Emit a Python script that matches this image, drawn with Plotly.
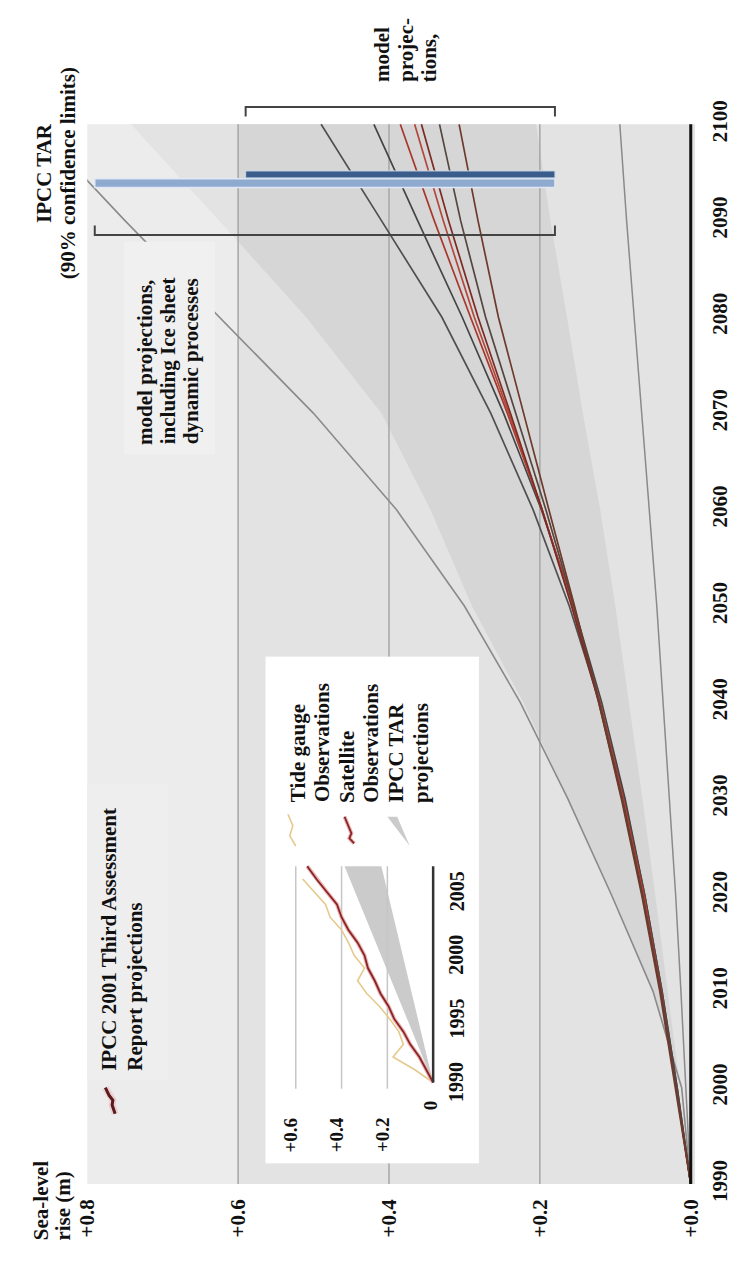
import plotly.graph_objects as go

W, H = 742, 1267
FONT = "Liberation Serif"
INK = "#111111"

# ------------------------------------------------------------------ data
decade_years = [1990, 2000, 2010, 2020, 2030, 2040, 2050, 2060, 2070, 2080, 2090, 2100]
level_ticks = [0.8, 0.6, 0.4, 0.2, 0.0]
level_labels = ["+0.8", "+0.6", "+0.4", "+0.2", "+0.0"]
grid_levels = [0.2, 0.4, 0.6]

# model projection lines (sea-level rise, m) at decade_years
proj_1 = [0, 0.018, 0.038, 0.061, 0.088, 0.121, 0.161, 0.209, 0.265, 0.330, 0.410, 0.490]
proj_2 = [0, 0.018, 0.038, 0.061, 0.087, 0.118, 0.155, 0.198, 0.248, 0.303, 0.362, 0.420]
proj_3 = [0, 0.019, 0.039, 0.062, 0.089, 0.120, 0.156, 0.197, 0.243, 0.292, 0.340, 0.385]
proj_4 = [0, 0.019, 0.040, 0.063, 0.090, 0.121, 0.157, 0.197, 0.241, 0.287, 0.328, 0.366]
proj_5 = [0, 0.019, 0.040, 0.064, 0.091, 0.122, 0.158, 0.197, 0.239, 0.282, 0.321, 0.357]
proj_6 = [0, 0.019, 0.040, 0.064, 0.091, 0.121, 0.155, 0.192, 0.232, 0.272, 0.305, 0.333]
proj_7 = [0, 0.020, 0.041, 0.065, 0.092, 0.122, 0.154, 0.188, 0.222, 0.255, 0.282, 0.307]
proj_lines = [proj_1, proj_2, proj_3, proj_4, proj_5, proj_6, proj_7]
proj_colors = ["#505050", "#454545", "#a8382c", "#b4473b", "#7c2a22", "#55463f", "#6e3a2c"]

tar_low = [0, 0.006, 0.013, 0.020, 0.028, 0.036, 0.045, 0.055, 0.065, 0.075, 0.085, 0.094]
ice_high = [0, 0.012, 0.050, 0.105, 0.163, 0.226, 0.300, 0.390, 0.500, 0.625, 0.750, 0.870]
band_low = [0, 0.014, 0.030, 0.047, 0.064, 0.082, 0.100, 0.120, 0.143, 0.164, 0.186, 0.205]
band_high = [0, 0.014, 0.050, 0.105, 0.163, 0.222, 0.290, 0.345, 0.410, 0.510, 0.625, 0.742]

bar_low = 0.18
bar_model_high = 0.59
bar_ice_high = 0.79
bar_model_year = 2094.8
bar_ice_year = 2093.9
bracket_model_year = 2101.8
bracket_ice_year = 2088.5

swatch_main_levels = [0.776, 0.771, 0.766, 0.767, 0.763]
swatch_main_years = [2000.0, 1999.2, 1998.7, 1998.2, 1997.3]

# inset (observations vs TAR projections)
inset_year_ticks = [1990, 1995, 2000, 2005]
inset_level_ticks = [0.6, 0.4, 0.2]
inset_level_labels = ["+0.6", "+0.4", "+0.2"]
inset_zero_label = "0"
tide_years = list(range(1990, 2007))
tide_levels = [0.0, 0.08, 0.175, 0.13, 0.15, 0.19, 0.235, 0.29, 0.33, 0.30, 0.345,
               0.37, 0.40, 0.45, 0.47, 0.52, 0.57]
sat_years = list(range(1990, 2008))
sat_levels = [0.0, 0.03, 0.06, 0.10, 0.13, 0.17, 0.195, 0.23, 0.255, 0.285, 0.30,
              0.33, 0.37, 0.40, 0.42, 0.465, 0.51, 0.55]
inset_wedge_years = [1990, 2007]
inset_wedge_low_end = 0.226
inset_wedge_high_end = 0.387
inset_span_years = [1989.5, 2007]

tide_swatch_levels = [0.634, 0.613, 0.626, 0.600]
tide_swatch_years = [2011.1, 2010.2, 2009.4, 2008.6]
sat_swatch_levels = [0.387, 0.370, 0.357, 0.366, 0.345]
sat_swatch_years = [2010.9, 2010.2, 2009.6, 2009.2, 2008.8]
wedge_swatch_levels = [0.200, 0.157, 0.102]
wedge_swatch_years = [2010.9, 2010.9, 2008.6]

# ------------------------------------------------------------------ helpers
def PX(x):
    return x / W


def PY(y):
    return 1 - y / H


S_RIGHT = -0.006
Y_TOP = 2103

fig = go.Figure()


def line(xs, ys, color, width, axis=1):
    fig.add_trace(go.Scatter(
        x=xs, y=ys, mode="lines", line=dict(color=color, width=width),
        hoverinfo="skip", showlegend=False,
        xaxis="x" if axis == 1 else "x2", yaxis="y" if axis == 1 else "y2"))


def poly(xs, ys, color, axis=1, edge=None, edge_w=0):
    fig.add_trace(go.Scatter(
        x=xs, y=ys, fill="toself", fillcolor=color, mode="lines",
        line=dict(width=edge_w, color=edge or color),
        hoverinfo="skip", showlegend=False,
        xaxis="x" if axis == 1 else "x2", yaxis="y" if axis == 1 else "y2"))


def hbar(lo, hi, year, half, color, edge, edge_w):
    poly([lo, hi, hi, lo, lo], [year - half, year - half, year + half, year + half, year - half],
         color, edge=edge, edge_w=edge_w)


# dark projection band
poly(band_high + band_low[::-1], decade_years + decade_years[::-1], "#d6d6d6")
# lighter veil over the upper part of the scale
y0, y1 = decade_years[0], decade_years[-1]
poly([level_ticks[0], level_ticks[1], level_ticks[1], level_ticks[0], level_ticks[0]],
     [y0, y0, y1, y1, y0], "rgba(255,255,255,0.32)")

# grid lines
for g in grid_levels:
    line([g, g], [y0, y1], "#a6a6a6", 1.5)

line(tar_low, decade_years, "#8a8a8a", 1.5)
line(ice_high, decade_years, "#8a8a8a", 1.6)
for vals, col in zip(proj_lines, proj_colors):
    line(vals, decade_years, col, 1.7)

# small swatch near TAR label
line(swatch_main_levels, swatch_main_years, "#ead2d2", 7)
line(swatch_main_levels, swatch_main_years, "#5a1a1e", 3)

# range bars (drawn above the lines)
hbar(bar_low, bar_ice_high, bar_ice_year, 0.45, "#8eaacf", "#dfe8f4", 1.5)
hbar(bar_low, bar_model_high, bar_model_year, 0.36, "#3b5d8b", "#c9d6e8", 1)

# zero baseline
line([0, 0], [y0, y1], "#111111", 3)

# ------------------------------------------------------------------ inset traces
poly([0, inset_wedge_low_end, inset_wedge_high_end, 0],
     [inset_wedge_years[0], inset_wedge_years[1], inset_wedge_years[1], inset_wedge_years[0]],
     "#cbcbcb", axis=2)
for g in inset_level_ticks:
    line([g, g], inset_span_years, "#c6c6c6", 1.5, axis=2)
line(tide_levels, tide_years, "#e6c98c", 1.6, axis=2)
line(sat_levels, sat_years, "#e8b4b4", 4, axis=2)
line(sat_levels, sat_years, "#8a2424", 1.8, axis=2)
line([0, 0], [inset_wedge_years[0], inset_wedge_years[1]], "#333333", 2.5, axis=2)
# legend swatches
line(tide_swatch_levels, tide_swatch_years, "#e6c98c", 1.6, axis=2)
line(sat_swatch_levels, sat_swatch_years, "#e8b4b4", 4, axis=2)
line(sat_swatch_levels, sat_swatch_years, "#8a2424", 1.8, axis=2)
poly(wedge_swatch_levels + [wedge_swatch_levels[0]], wedge_swatch_years + [wedge_swatch_years[0]],
     "#cbcbcb", axis=2)

# ------------------------------------------------------------------ shapes
shapes = [
    dict(type="rect", xref="x", yref="y", x0=level_ticks[0], x1=S_RIGHT,
         y0=y0, y1=y1, fillcolor="#e3e3e3", line=dict(width=0), layer="below"),
]
# brackets
tk = 1.0
shapes.append(dict(
    type="path", xref="x", yref="y", layer="above", line=dict(color="#444444", width=2),
    path=(f"M {bar_low},{bracket_model_year - tk} L {bar_low},{bracket_model_year} "
          f"L {bar_model_high},{bracket_model_year} L {bar_model_high},{bracket_model_year - tk}")))
shapes.append(dict(
    type="path", xref="x", yref="y", layer="above", line=dict(color="#444444", width=2),
    path=(f"M {bar_low},{bracket_ice_year + tk} L {bar_low},{bracket_ice_year} "
          f"L {bar_ice_high},{bracket_ice_year} L {bar_ice_high},{bracket_ice_year + tk}")))
# text boxes
for (bx0, by0, bx1, by1, c) in [(69, 787, 152, 1088, "#eeeeee"), (107, 237, 200, 453, "#f0f0f0")]:
    shapes.append(dict(type="rect", xref="paper", yref="paper", x0=PX(bx0), x1=PX(bx1),
                       y0=PY(by1), y1=PY(by0), fillcolor=c, line=dict(width=0), layer="above"))

# ------------------------------------------------------------------ annotations
annotations = []


def ann(text, x, y, yanchor="middle", size=21, xref="paper", yref="paper", xshift=0):
    annotations.append(dict(
        text=f"<b>{text}</b>", x=x, y=y, xref=xref, yref=yref, textangle=-90,
        showarrow=False, xanchor="center", yanchor=yanchor, xshift=xshift,
        font=dict(family=FONT, size=size, color=INK)))


ann("Sea-level", PX(21), PY(1252), "bottom")
ann("rise (m)", PX(44), PY(1252), "bottom")
ann("IPCC TAR", PX(24), PY(167))
ann("(90% confidence limits)", PX(49), PY(168))
for t, x in zip(["model", "projec-", "tions,"], [372, 396, 420]):
    ann(t, PX(x), PY(77), "bottom")
for t, x in zip(["IPCC 2001 Third Assessment", "Report projections"], [91, 118]):
    ann(t, PX(x), PY(1080), "bottom")
for t, x in zip(["model projections,", "including Ice sheet", "dynamic processes"], [128, 152, 175]):
    ann(t, PX(x), PY(445), "bottom")
for t, x in zip(["Tide gauge", "Observations", "Satellite", "Observations", "IPCC TAR", "projections"],
                [285, 310, 335, 360, 385, 411]):
    ann(t, PX(x), PY(808), "bottom")
# inset tick labels
for v, t in zip(inset_level_ticks, inset_level_labels):
    ann(t, v, PY(1143), size=19, xref="x2", xshift=-5)
ann(inset_zero_label, 0, PY(1113), size=19, xref="x2", xshift=-3)
for yv in inset_year_ticks:
    ann(str(yv), PX(448), yv, size=20, yref="y2")

# ------------------------------------------------------------------ layout
fig.update_layout(
    width=W, height=H, margin=dict(l=0, r=0, t=0, b=0),
    paper_bgcolor="white", plot_bgcolor="white", showlegend=False,
    shapes=shapes, annotations=annotations,
    xaxis=dict(domain=[PX(69), PX(693)], range=[level_ticks[0], S_RIGHT],
               tickvals=level_ticks, ticktext=[f"<b>{t}</b>" for t in level_labels],
               tickangle=-90, showgrid=False, zeroline=False, showline=False, ticks="",
               ticklabelstandoff=10, tickfont=dict(family=FONT, size=21, color=INK),
               fixedrange=True),
    yaxis=dict(domain=[PY(1193), PY(1193 - (Y_TOP - 1990) * (1075 / 110))],
               range=[decade_years[0], Y_TOP], side="right",
               tickvals=decade_years, ticktext=[f"<b>{y}</b>" for y in decade_years],
               tickangle=-90, showgrid=False, zeroline=False, showline=False, ticks="",
               ticklabelstandoff=10, tickfont=dict(family=FONT, size=21, color=INK),
               fixedrange=True),
    xaxis2=dict(domain=[PX(252), PX(471)], range=[0.732, -0.2], anchor="y2", visible=False,
                fixedrange=True),
    yaxis2=dict(domain=[PY(1172), PY(658)], range=[1983.64, 2023.49], anchor="x2",
                visible=False, fixedrange=True),
)

fig.write_html("out.html")
